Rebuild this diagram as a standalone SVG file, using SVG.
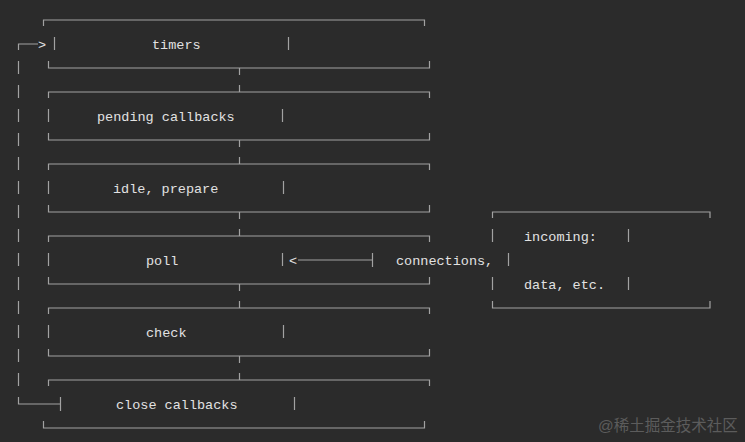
<svg xmlns="http://www.w3.org/2000/svg" width="745" height="442" viewBox="0 0 745 442">
<style>
.ln{fill:none;stroke:#a2a2a2;stroke-width:1.2}
.t{font-family:"Liberation Mono","DejaVu Sans Mono",monospace;font-size:13.5px;fill:#e2e2e2}
.wm{font-family:"Liberation Sans","Noto Sans CJK SC",sans-serif;font-size:15.5px;fill:#5c5c5c}
</style>
<rect width="745" height="442" fill="#2b2b2b"/>
<g id="timers">
<path class="ln" d="M43.5,26V20H424.5V26M54.5,37V50M288.5,37V50M48.5,61V68H429.5V61"/>
<text class="t" x="152" y="48.5">timers</text>
</g>
<g id="pending-callbacks">
<path class="ln" d="M48.5,98V92H429.5V98M48.5,109V122M282.5,109V122M48.5,133V140H429.5V133"/>
<text class="t" x="97" y="120.5">pending callbacks</text>
</g>
<g id="idle-prepare">
<path class="ln" d="M48.5,170V164H429.5V170M48.5,181V194M283.5,181V194M48.5,205V212H429.5V205"/>
<text class="t" x="113" y="192.5">idle, prepare</text>
</g>
<g id="poll">
<path class="ln" d="M48.5,242V236H429.5V242M48.5,253V266M282.5,253V266M48.5,277V284H429.5V277"/>
<text class="t" x="146" y="264.5">poll</text>
</g>
<g id="check">
<path class="ln" d="M48.5,314V308H429.5V314M48.5,325V338M283.5,325V338M48.5,349V356H429.5V349"/>
<text class="t" x="146" y="336.5">check</text>
</g>
<g id="close-callbacks">
<path class="ln" d="M48.5,386V380H429.5V386M294.5,397V410M43.5,421V428H424.5V421"/>
<text class="t" x="116" y="408.5">close callbacks</text>
</g>
<g id="incoming">
<path class="ln" d="M492.5,218V212H710V218M492.5,229V242M628.5,229V242M508.5,253V266M492.5,277V290M628.5,277V290M492.5,301V308H710V301"/>
<text class="t" x="524" y="240.5">incoming:</text>
<text class="t" x="396" y="264.5">connections,</text>
<text class="t" x="524" y="288.5">data, etc.</text>
</g>
<g id="connectors">
<path class="ln" d="M239.5,68V75M239.5,85V92M239.5,140V147M239.5,157V164M239.5,212V219M239.5,229V236M239.5,284V291M239.5,301V308M239.5,356V363M239.5,373V380"/>
<path class="ln" d="M38,44H18.5V50M18.5,61V74M18.5,85V98M18.5,109V122M18.5,133V146M18.5,157V170M18.5,181V194M18.5,205V218M18.5,229V242M18.5,253V266M18.5,277V290M18.5,301V314M18.5,325V338M18.5,349V362M18.5,373V386M18.5,397V404H60.5M60.5,397V411"/>
<text class="t" x="38" y="48.5">&gt;</text>
<path class="ln" d="M298,260H372.5M372.5,253V267"/>
<text class="t" x="289" y="264.5">&lt;</text>
</g>
<text class="wm" x="598" y="431">@稀土掘金技术社区</text>
</svg>
